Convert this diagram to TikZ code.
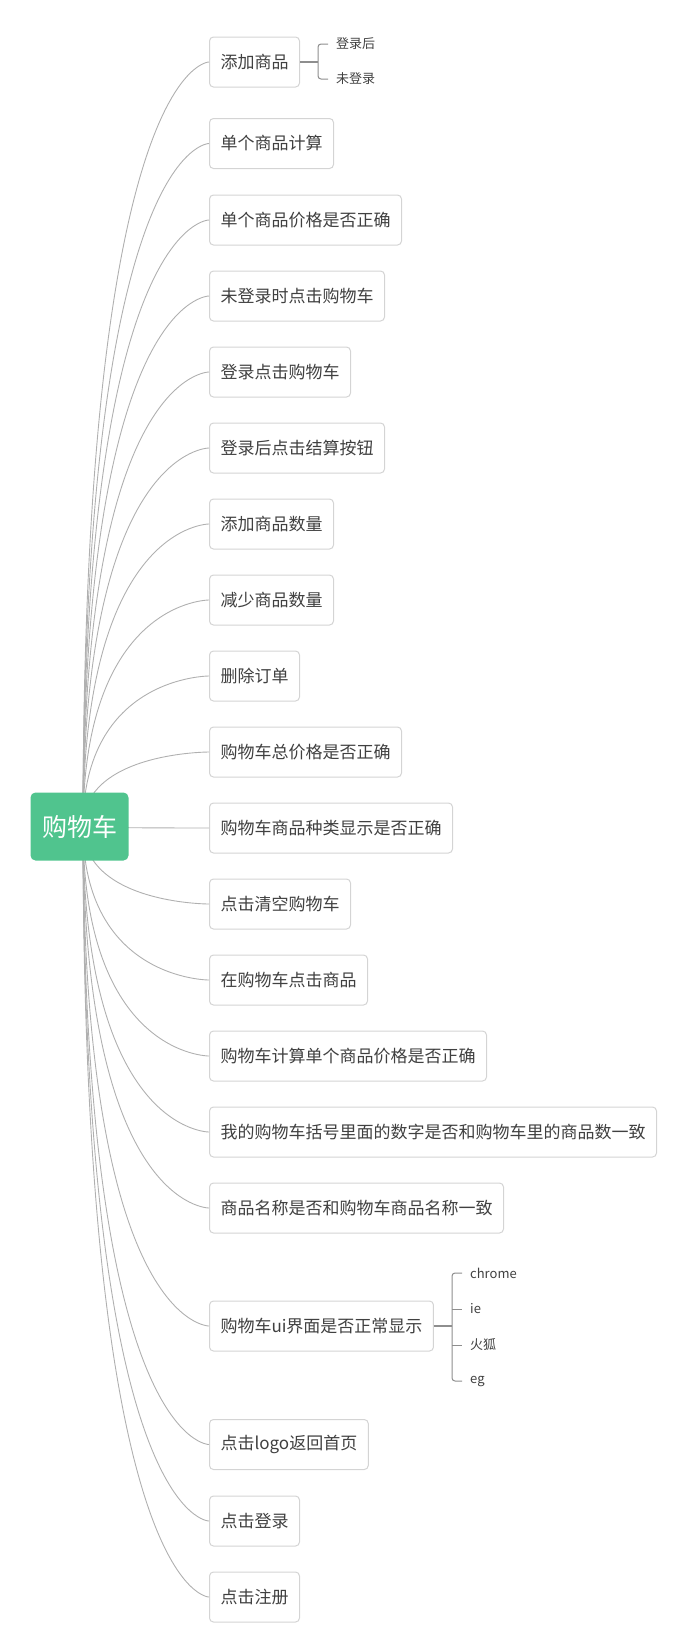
\documentclass[tikz,border=0pt]{standalone}
\usepackage{fontspec}
\setmainfont{Noto Sans CJK SC}
\definecolor{rootgreen}{HTML}{50C48E}
\definecolor{boxline}{HTML}{D4D4D4}
\definecolor{linkline}{HTML}{B0B0B0}
\definecolor{subline}{HTML}{8E8E8E}
\definecolor{txt}{HTML}{404040}
\tikzset{
  topic/.style={draw=boxline, line width=1pt, rounded corners=4pt, fill=white,
    minimum height=50pt, inner xsep=11pt, inner ysep=0pt, anchor=west,
    text=txt, font=\fontsize{17pt}{20pt}\selectfont},
  roottopic/.style={fill=rootgreen, rounded corners=5pt, minimum width=98pt,
    minimum height=68pt, inner sep=0pt, text=white,
    font=\fontsize{25pt}{28pt}\selectfont},
  leaf/.style={anchor=west, inner sep=0pt, text=txt,
    font=\fontsize{13pt}{15pt}\selectfont},
  link/.style={draw=linkline, line width=0.9pt},
  sublink/.style={draw=subline, line width=1.4pt},
  bracket/.style={draw=subline, line width=1pt, rounded corners=3pt}
}
\begin{document}
\begin{tikzpicture}[x=1pt,y=-1pt]
\useasboundingbox (0,0) rectangle (686,1652);
% child topics
\node[topic] (c1)  at (209,62)    {添加商品};
\node[topic] (c2)  at (209,143.5) {单个商品计算};
\node[topic] (c3)  at (209,220)   {单个商品价格是否正确};
\node[topic] (c4)  at (209,296)   {未登录时点击购物车};
\node[topic] (c5)  at (209,372)   {登录点击购物车};
\node[topic] (c6)  at (209,448)   {登录后点击结算按钮};
\node[topic] (c7)  at (209,524)   {添加商品数量};
\node[topic] (c8)  at (209,600)   {减少商品数量};
\node[topic] (c9)  at (209,676)   {删除订单};
\node[topic] (c10) at (209,752)   {购物车总价格是否正确};
\node[topic] (c11) at (209,828)   {购物车商品种类显示是否正确};
\node[topic] (c12) at (209,904)   {点击清空购物车};
\node[topic] (c13) at (209,980)   {在购物车点击商品};
\node[topic] (c14) at (209,1056)  {购物车计算单个商品价格是否正确};
\node[topic] (c15) at (209,1132)  {我的购物车括号里面的数字是否和购物车里的商品数一致};
\node[topic] (c16) at (209,1208)  {商品名称是否和购物车商品名称一致};
\node[topic] (c17) at (209,1326)  {购物车ui界面是否正常显示};
\node[topic] (c18) at (209,1444.5){点击logo返回首页};
\node[topic] (c19) at (209,1521)  {点击登录};
\node[topic] (c20) at (209,1597)  {点击注册};
% curved links from the root
\coordinate (rs) at (83,826.5);
\foreach \i in {1,...,20}{
  \draw[link] (rs) .. controls (rs |- c\i.west) and (c\i.west) .. (c\i.west);
}
% root topic drawn over the link starts
\node[roottopic] (root) at (79.5,826.5) {购物车};
% sub topics of 添加商品
\node[leaf] (s11) at (336,44) {登录后};
\node[leaf] (s12) at (336,79) {未登录};
\coordinate (b1) at (318,62);
\draw[sublink] (c1.east) -- (b1);
\draw[bracket] ([xshift=-8pt]s11.west) -| (b1) |- ([xshift=-8pt]s12.west);
% sub topics of 购物车ui界面是否正常显示
\node[leaf] (s21) at (470,1273) {chrome};
\node[leaf] (s22) at (470,1309) {ie};
\node[leaf] (s23) at (470,1345) {火狐};
\node[leaf] (s24) at (470,1381) {eg};
\coordinate (b2) at (452,1326);
\draw[sublink] (c17.east) -- (b2);
\draw[bracket] ([xshift=-8pt]s21.west) -| (b2) |- ([xshift=-8pt]s24.west);
\draw[bracket] (b2 |- s22.west) -- ([xshift=-8pt]s22.west);
\draw[bracket] (b2 |- s23.west) -- ([xshift=-8pt]s23.west);
\end{tikzpicture}
\end{document}
